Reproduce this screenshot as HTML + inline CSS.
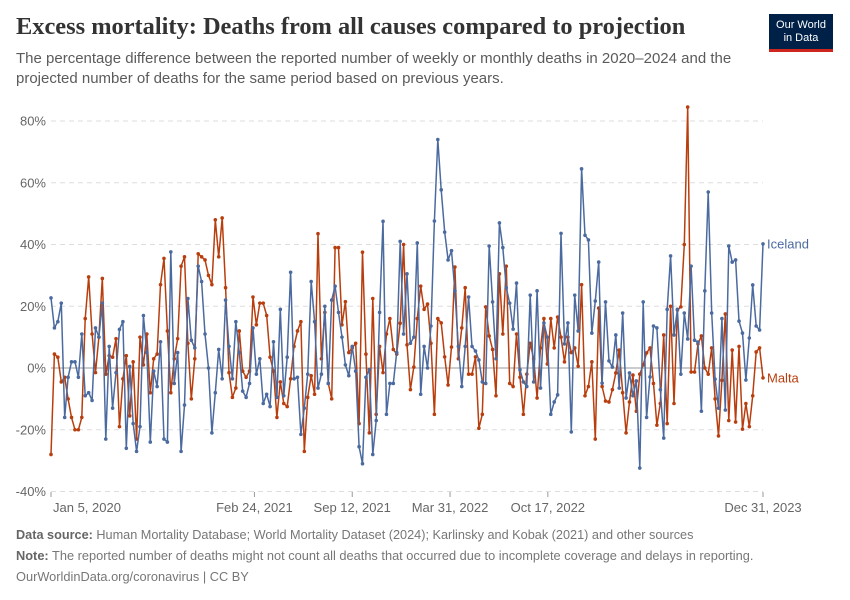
<!DOCTYPE html>
<html><head><meta charset="utf-8"><style>
body{margin:0;background:#fff;font-family:"Liberation Sans",sans-serif;}
#wrap{position:relative;width:850px;height:600px;overflow:hidden;}
.t{position:absolute;white-space:nowrap;}
</style></head><body>
<div id="wrap">
<div class="t" style="left:16px;top:13px;font-family:'Liberation Serif',serif;font-size:24.4px;font-weight:bold;color:#333;">Excess mortality: Deaths from all causes compared to projection</div>
<div class="t" style="left:16px;top:49px;font-size:15px;line-height:20px;color:#5b5b5b;">The percentage difference between the reported number of weekly or monthly deaths in 2020–2024 and the<br>projected number of deaths for the same period based on previous years.</div>
<div style="position:absolute;left:769px;top:14px;width:64px;height:38px;background:#002147;border-bottom:3px solid #ce261e;box-sizing:border-box;color:#fff;font-size:11px;line-height:13px;text-align:center;padding-top:5px;">Our World<br>in Data</div>
<svg id="chart" width="850" height="600" style="position:absolute;left:0;top:0"></svg>
<div class="t" style="left:16px;top:528px;font-size:12.7px;color:#777;"><b style="color:#666">Data source:</b> Human Mortality Database; World Mortality Dataset (2024); Karlinsky and Kobak (2021) and other sources</div>
<div class="t" style="left:16px;top:548px;font-size:12.8px;color:#777;"><b style="color:#666">Note:</b> The reported number of deaths might not count all deaths that occurred due to incomplete coverage and delays in reporting.</div>
<div class="t" style="left:16px;top:569px;font-size:12.8px;color:#777;">OurWorldinData.org/coronavirus | CC BY</div>
</div>
<script>
const yTicks=[-40,-20,0,20,40,60,80];
const xTickLabels=["Jan 5, 2020","Feb 24, 2021","Sep 12, 2021","Mar 31, 2022","Oct 17, 2022","Dec 31, 2023"];
const xTickDates=["2020-01-05","2021-02-24","2021-09-12","2022-03-31","2022-10-17","2023-12-31"];
const startDate="2020-01-05";
const iceland=[22.7,13,15,21,-16,-3,2,2,-3,11,-9,-8,-10.5,13,10,21,-23,7,-13,-1.5,12.5,15,-26,0.5,-18,-27,-19,17,5,-24,-1,-6,8.5,-23,-24,37.6,-5,5,-27,-12,22.5,9,6.5,33,28,11,0,-21,-8,6,-3.5,22,
7,-3.5,15,5,-7.5,-9.5,-5,13,-2,3,-11.5,-8.5,-12.5,8.5,-9.5,19,-9,3.5,31,-3.5,-3,-21.5,-13,-2,28,15,-6.5,-2,20,-5,22,26.5,18,10,1,-2.5,7,-1,-25.5,-31,-3,-0.5,-28,-17,18,47.5,-15,-5,-5,5,41,11,
30.5,8,10,40.5,-8.5,7,0,13.6,47.6,74,57.7,44,35,38,25,7,-6,7,23,7,5.5,2.6,-4.5,-5,39.5,21.4,3,47,39,26,21,12.6,27.5,-0.6,-4.5,-6,23.6,-4.5,25,-6.5,14.6,10,-15,-11,-8.7,43.6,7.8,14.6,-20.7,23.6,12,64.5,43,
41.5,11.3,21.7,34.3,-4.9,21.4,2.3,0.3,10.7,-6.5,17.8,-9.7,-1.6,-9,-4.2,-32.4,21.4,-16,-2.9,13.6,13,-7,-22.7,19,36.3,10.7,19,-2,17.8,9.4,33,9,8.4,-14,25,57,17.8,-3.6,-13,16,-13.6,39.5,34.3,35,15.2,11.3,-3.9,9.7,26.9,13.6,12.3,40.2];
const malta=[-28,4.5,3.5,-4.5,-3,-10,-16,-20,-20,-16,16,29.5,11,-1.5,10,29,-2,4,3.5,9.5,-19,-3.5,4,-15.5,2,-23,10,1,11,-8,3,4.5,27,35.5,12,-8,3,9.5,33,36,8,-10,3,37,36,35,30,27,48,36,48.6,26,
-1.5,-9.5,-6.5,12,-1,-3,-1,23,14,21,21,17,3.5,-1,-16,-4.5,-11.5,-12.5,-3.5,7,12,15,-27,-9.5,-2.5,-8.5,43.5,3,18,-5,-10,39,39,14,21.5,5,6.5,8,-18,37.5,4.5,-21,22.5,-15,7,-1.5,11,16,6,4.5,14.5,40,7.5,
-7,0.3,16,26.5,19,20.7,8,-15,16,14.6,3.6,-5.5,6.8,32.7,3,13,26,-2,-2,3.6,-19.5,-15,19.8,10.4,6,-9,30.5,11,33,-5,-6,11,-3,-15,-2,8,3,-9.7,6.5,16,1.3,16,6.5,16.5,10,2,10,5,6.5,0.6,27,-9,
-6,2,-23,19.4,-6,-10.7,-11,-7,-1.6,5.8,-8,-21,-11,-2.3,-14,-2,1,4.9,6.5,-5,-18.5,-11.5,10.7,-18,20,-11.5,18.8,19.8,40,84.5,-1.3,-1.3,7.8,10.4,0,-2,6.5,-10,-22,-4,17.5,-17,5.8,-17.5,7,-19.8,-11.5,-19,-9,5.2,6.5,-3.2];
const NS="http://www.w3.org/2000/svg";
const svg=document.getElementById('chart');
const X0=51,X1=763,Y0=368,PX=61.75/20;
const t0=Date.parse(startDate),tEnd=Date.parse("2023-12-31");
function xd(ms){return X0+(ms-t0)/(tEnd-t0)*(X1-X0);}
function xi(i){return xd(t0+i*7*86400000);}
function y(v){return Y0-v*PX;}
function mk(tag,attrs){const e=document.createElementNS(NS,tag);for(const k in attrs)e.setAttribute(k,attrs[k]);svg.appendChild(e);return e;}
yTicks.forEach(v=>{
  const l=mk('line',{x1:X0,x2:X1,y1:y(v),y2:y(v),stroke:v===0?'#999':'#ddd','stroke-width':1,'stroke-dasharray':v===0?'':'5,4'});
  
  
  const t=mk('text',{x:46,y:y(v)+4.5,'text-anchor':'end','font-size':13,fill:'#666','font-family':'Liberation Sans, sans-serif'});
  t.textContent=v+'%';
  
  
});
xTickDates.forEach((d,i)=>{
  const xx=xd(Date.parse(d));
  const tk=mk('line',{x1:xx,x2:xx,y1:492,y2:497,stroke:'#999'});
  
  
  const t=mk('text',{x:i===0?xx+2:xx,y:512,'text-anchor':i===0?'start':'middle','font-size':13,fill:'#666','font-family':'Liberation Sans, sans-serif'});
  t.textContent=xTickLabels[i];
  
  
});
function series(data,color,name,label){
  const pts=data.map((v,i)=>xi(i).toFixed(1)+','+y(v).toFixed(1)).join(' ');
  const pl=mk('polyline',{points:pts,fill:'none',stroke:color,'stroke-width':1.5,'stroke-linejoin':'round'});
  
  
  data.forEach((v,i)=>{
    const c=mk('circle',{cx:xi(i),cy:y(v),r:1.8,fill:color});
    
    
  });
  const last=data[data.length-1];
  const t=mk('text',{x:767,y:y(last)+4.5,'font-size':13,fill:color,'font-family':'Liberation Sans, sans-serif'});
  t.textContent=label;
  
  
}
series(malta,'#b93e0e','malta','Malta');
series(iceland,'#4b6a9f','iceland','Iceland');
</script>
</body></html>
